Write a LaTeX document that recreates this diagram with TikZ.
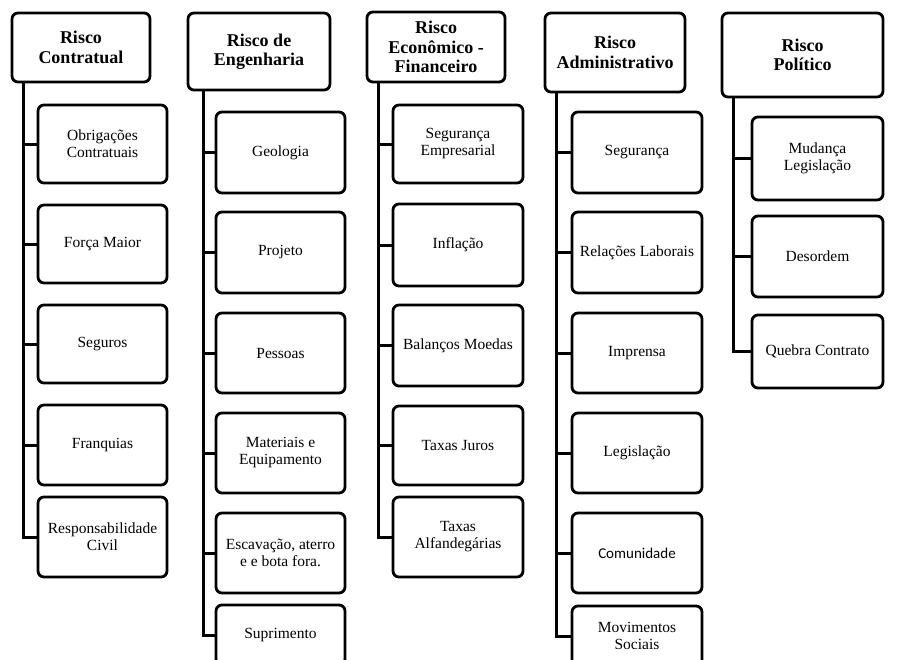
\documentclass[tikz,border=0pt]{standalone}
\usepackage{fontspec}
\setmainfont{Liberation Serif}
\newfontfamily\calibrifont{Carlito}

\begin{document}
\begin{tikzpicture}[x=1pt, y=-1pt,
  riskbox/.style 2 args={draw, line width=2.8pt, rounded corners=6pt, inner sep=0pt, align=center,
    minimum width=#1pt, minimum height=#2pt, font=\fontsize{18}{19.5}\selectfont\bfseries},
  itembox/.style 2 args={draw, line width=2.8pt, rounded corners=6pt, inner sep=0pt, align=center,
    minimum width=#1pt, minimum height=#2pt, font=\fontsize{15.5}{17}\selectfont},
  branch/.style={line width=3pt}]
\useasboundingbox (0,0) rectangle (900,659);
\clip (0,0) rectangle (900,659);

% headers
\node[riskbox={138}{69}] (h1) at (81,47.5) {Risco\\Contratual};
\node[riskbox={142}{77}] (h2) at (259,51.5) {Risco de\\Engenharia};
\node[riskbox={138}{70}] (h3) at (436,47) {Risco\\Econômico -\\Financeiro};
\node[riskbox={140}{79}] (h4) at (615,52.5) {Risco\\Administrativo};
\node[riskbox={161}{84}] (h5) at (802.5,55) {Risco\\Político};

% contratual
\node[itembox={129}{78}] (a1) at (102.5,144) {Obrigações\\Contratuais};
\node[itembox={129}{78}] (a2) at (102.5,244) {Força Maior};
\node[itembox={129}{78}] (a3) at (102.5,344) {Seguros};
\node[itembox={129}{80}] (a4) at (102.5,445) {Franquias};
\node[itembox={129}{80}] (a5) at (102.5,537) {Responsabilidade\\Civil};

% engenharia
\node[itembox={129}{81}] (b1) at (280.5,152.5) {Geologia};
\node[itembox={129}{81}] (b2) at (280.5,252.5) {Projeto};
\node[itembox={129}{80}] (b3) at (280.5,353) {Pessoas};
\node[itembox={129}{80}] (b4) at (280.5,453) {Materiais e\\Equipamento};
\node[itembox={129}{80}] (b5) at (280.5,553) {Escavação, aterro\\e e bota fora.};
\node[itembox={129}{60}] (b6) at (280.5,635) {Suprimento};

% economico - financeiro
\node[itembox={130}{78}] (c1) at (458,144) {Segurança\\Empresarial};
\node[itembox={130}{82}] (c2) at (458,245) {Inflação};
\node[itembox={130}{81}] (c3) at (458,345.5) {Balanços Moedas};
\node[itembox={130}{79}] (c4) at (458,445.5) {Taxas Juros};
\node[itembox={130}{80}] (c5) at (458,537) {Taxas\\Alfandegárias};

% administrativo
\node[itembox={130}{81}] (d1) at (637,152.5) {Segurança};
\node[itembox={130}{81}] (d2) at (637,252.5) {Relações Laborais};
\node[itembox={130}{80}] (d3) at (637,353) {Imprensa};
\node[itembox={130}{80}] (d4) at (637,453) {Legislação};
\node[itembox={130}{80}, font=\calibrifont\fontsize{15}{17}\selectfont] (d5) at (637,553) {Comunidade};
\node[itembox={130}{60}] (d6) at (637,636) {Movimentos\\Sociais};

% politico
\node[itembox={131}{83}] (e1) at (817.5,158.5) {Mudança\\Legislação};
\node[itembox={131}{81}] (e2) at (817.5,256.5) {Desordem};
\node[itembox={131}{73}] (e3) at (817.5,351.5) {Quebra Contrato};

% trunks
\coordinate (t1) at ([xshift=13pt]h1.south west);
\coordinate (t2) at ([xshift=17pt]h2.south west);
\coordinate (t3) at ([xshift=13pt]h3.south west);
\coordinate (t4) at ([xshift=13pt]h4.south west);
\coordinate (t5) at ([xshift=13pt]h5.south west);

\draw[branch] (t1) |- (a1.west);
\draw[branch] (t1) |- (a2.west);
\draw[branch] (t1) |- (a3.west);
\draw[branch] (t1) |- (a4.west);
\draw[branch] (t1) |- (a5.west);

\draw[branch] (t2) |- (b1.west);
\draw[branch] (t2) |- (b2.west);
\draw[branch] (t2) |- (b3.west);
\draw[branch] (t2) |- (b4.west);
\draw[branch] (t2) |- (b5.west);
\draw[branch] (t2) |- (b6.west);

\draw[branch] (t3) |- (c1.west);
\draw[branch] (t3) |- (c2.west);
\draw[branch] (t3) |- (c3.west);
\draw[branch] (t3) |- (c4.west);
\draw[branch] (t3) |- (c5.west);

\draw[branch] (t4) |- (d1.west);
\draw[branch] (t4) |- (d2.west);
\draw[branch] (t4) |- (d3.west);
\draw[branch] (t4) |- (d4.west);
\draw[branch] (t4) |- (d5.west);
\draw[branch] (t4) |- (d6.west);

\draw[branch] (t5) |- (e1.west);
\draw[branch] (t5) |- (e2.west);
\draw[branch] (t5) |- (e3.west);
\end{tikzpicture}
\end{document}
